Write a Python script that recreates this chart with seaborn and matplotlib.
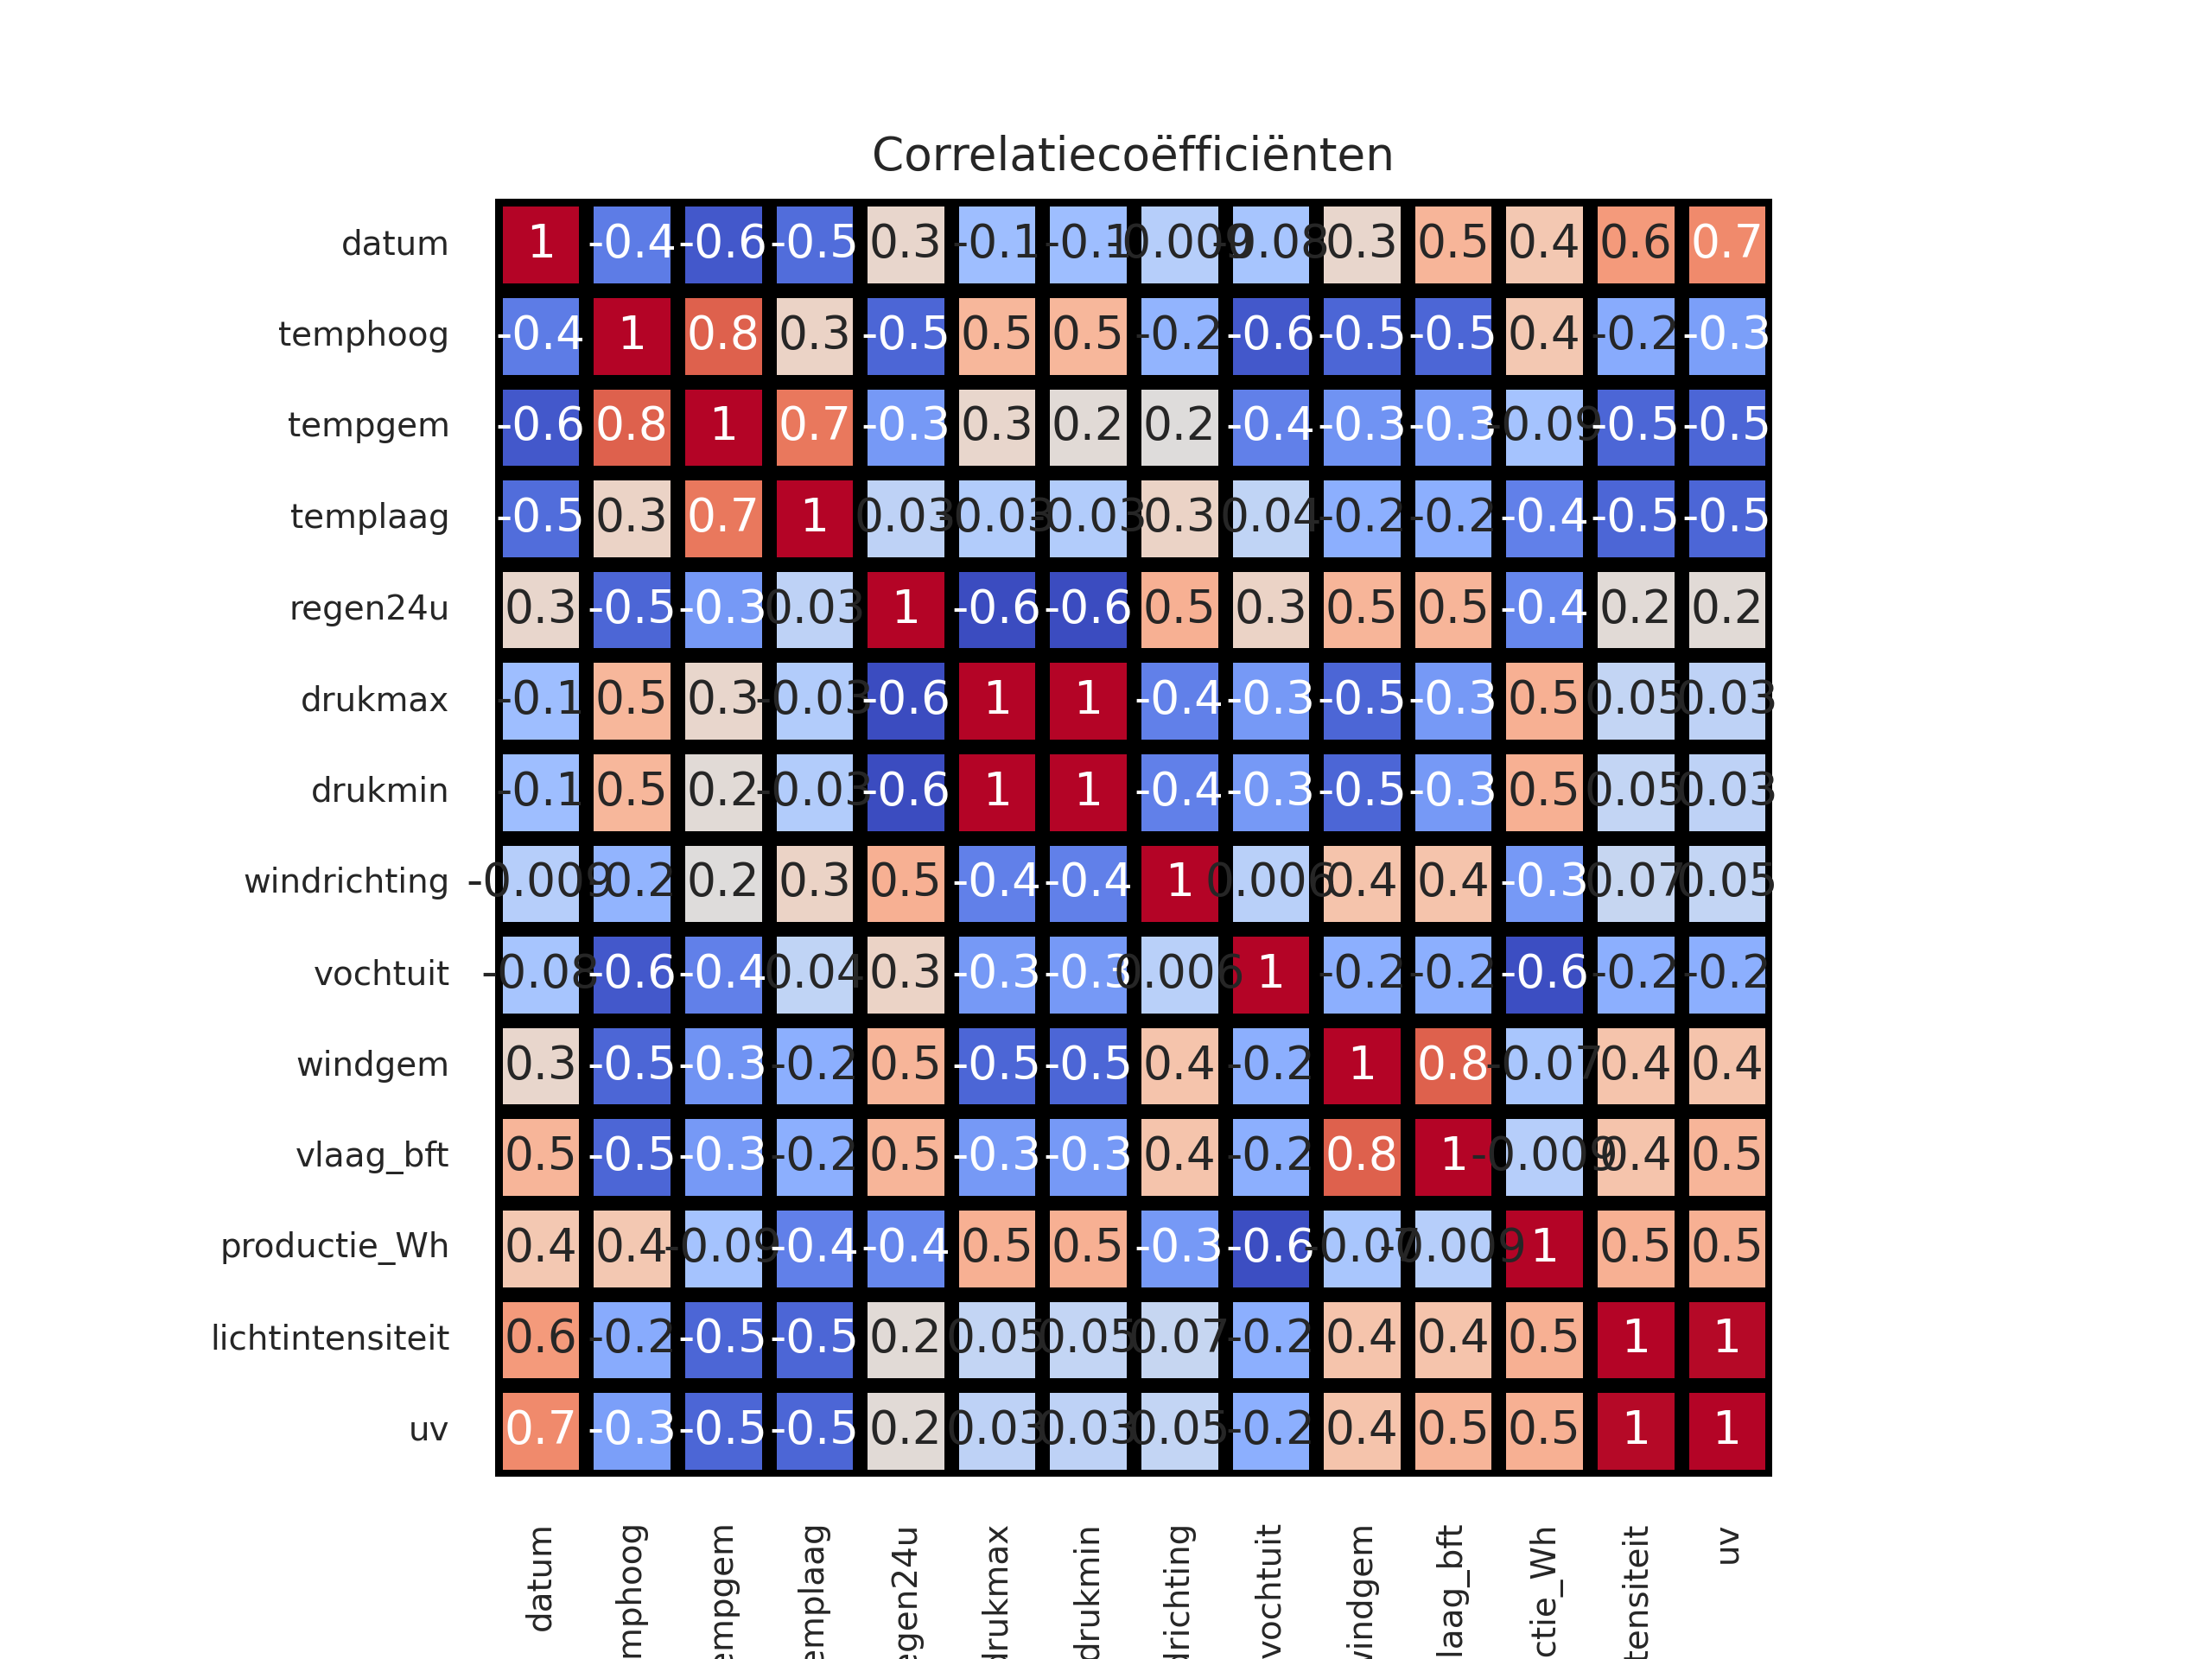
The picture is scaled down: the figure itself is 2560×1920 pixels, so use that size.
import pandas as pd
import seaborn as sns
import matplotlib.pyplot as plt

kolommen = ['datum', 'temphoog', 'tempgem', 'templaag', 'regen24u', 'drukmax', 'drukmin',
            'windrichting', 'vochtuit', 'windgem', 'vlaag_bft', 'productie_Wh',
            'lichtintensiteit', 'uv']

datum = [1, -0.42, -0.55, -0.48, 0.27, -0.12, -0.12, -0.009, -0.08, 0.27, 0.48, 0.38, 0.6, 0.66]
temphoog = [-0.42, 1, 0.8, 0.3, -0.5, 0.47, 0.47, -0.18, -0.55, -0.5, -0.5, 0.38, -0.22, -0.28]
tempgem = [-0.55, 0.8, 1, 0.72, -0.3, 0.27, 0.23, 0.21, -0.4, -0.33, -0.3, -0.09, -0.5, -0.5]
templaag = [-0.48, 0.3, 0.72, 1, 0.03, -0.03, -0.03, 0.3, 0.04, -0.2, -0.2, -0.4, -0.5, -0.5]
regen24u = [0.27, -0.5, -0.3, 0.03, 1, -0.6, -0.6, 0.5, 0.3, 0.48, 0.48, -0.38, 0.23, 0.23]
drukmax = [-0.12, 0.47, 0.27, -0.03, -0.6, 1, 0.998, -0.4, -0.3, -0.5, -0.3, 0.5, 0.05, 0.03]
drukmin = [-0.12, 0.47, 0.23, -0.03, -0.6, 0.998, 1, -0.4, -0.3, -0.5, -0.3, 0.5, 0.05, 0.03]
windrichting = [-0.009, -0.18, 0.21, 0.3, 0.5, -0.4, -0.4, 1, 0.006, 0.4, 0.4, -0.3, 0.07, 0.05]
vochtuit = [-0.08, -0.55, -0.4, 0.04, 0.3, -0.3, -0.3, 0.006, 1, -0.2, -0.2, -0.59, -0.2, -0.2]
windgem = [0.27, -0.5, -0.33, -0.2, 0.48, -0.5, -0.5, 0.4, -0.2, 1, 0.8, -0.07, 0.4, 0.4]
vlaag_bft = [0.48, -0.5, -0.3, -0.2, 0.48, -0.3, -0.3, 0.4, -0.2, 0.8, 1, -0.009, 0.4, 0.48]
productie_Wh = [0.38, 0.38, -0.09, -0.4, -0.38, 0.5, 0.5, -0.3, -0.59, -0.07, -0.009, 1, 0.5, 0.5]
lichtintensiteit = [0.6, -0.22, -0.5, -0.5, 0.23, 0.05, 0.05, 0.07, -0.2, 0.4, 0.4, 0.5, 1, 0.99]
uv = [0.66, -0.28, -0.5, -0.5, 0.23, 0.03, 0.03, 0.05, -0.2, 0.4, 0.48, 0.5, 0.99, 1]

corr = pd.DataFrame([datum, temphoog, tempgem, templaag, regen24u, drukmax, drukmin,
                     windrichting, vochtuit, windgem, vlaag_bft, productie_Wh,
                     lichtintensiteit, uv], index=kolommen, columns=kolommen)

sns.set_theme(style="white", context="paper")
plt.figure(figsize=(6.4, 4.8))

ax = sns.heatmap(corr, annot=True, fmt='.1g', cmap='coolwarm',
                 linewidths=3, linecolor='black', square=True, cbar=False)

ax.tick_params(labelsize=7, pad=4.6)
plt.setp(ax.get_xticklabels(), rotation=90)
plt.setp(ax.get_yticklabels(), rotation=0)
plt.title('Correlatiecoëfficiënten', fontsize=9.6)

plt.savefig('out.png', dpi=400)
